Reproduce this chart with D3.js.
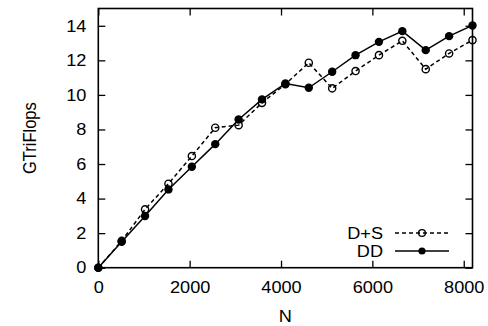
<!DOCTYPE html>
<html>
<head>
<meta charset="utf-8">
<script src="https://cdn.jsdelivr.net/npm/d3@7"></script>
<style>
  html, body { margin: 0; padding: 0; background: #fff; }
  svg { display: block; font-family: "Liberation Sans", Arial, sans-serif; }
</style>
</head>
<body>
<div id="app"></div>
<script>
// problem size N (step 512)
const sizes = [0, 512, 1024, 1536, 2048, 2560, 3072, 3584, 4096, 4608, 5120, 5632, 6144, 6656, 7168, 7680, 8192];
const dsValues = [0, 1.55, 3.38, 4.86, 6.46, 8.10, 8.25, 9.54, 10.62, 11.86, 10.38, 11.38, 12.30, 13.13, 11.49, 12.40, 13.17];
const ddValues = [0, 1.50, 2.99, 4.53, 5.84, 7.15, 8.58, 9.74, 10.66, 10.41, 11.34, 12.30, 13.07, 13.69, 12.59, 13.40, 14.02];
const xTicks = [0, 2000, 4000, 6000, 8000];
const yTicks = [0, 2, 4, 6, 8, 10, 12, 14];
const seriesNames = ["D+S", "DD"];

const width = 488, height = 326;
const margin = { top: 8.5, left: 98.3, right: 488 - 472.5, bottom: 326 - 267.7 };
const fontSize = 16.5, stretch = 1.1, tickLen = 7;

const x = d3.scaleLinear().domain([0, 8192]).range([margin.left, width - margin.right]);
const y = d3.scaleLinear().domain([0, 15]).range([height - margin.bottom, margin.top]);

const svg = d3.select("#app").append("svg").attr("width", width).attr("height", height);

// mirrored inward ticks
svg.append("g")
  .attr("transform", `translate(0,${y(0)})`)
  .call(d3.axisBottom(x).tickValues(xTicks).tickSize(-tickLen).tickPadding(14).tickFormat(d3.format("d")))
  .call(g => g.select(".domain").remove())
  .call(g => g.selectAll("text")
    .attr("font-size", fontSize).attr("fill", "#000")
    .attr("font-family", "Liberation Sans, Arial, sans-serif")
    .attr("transform", `scale(${stretch},1)`));

svg.append("g")
  .attr("transform", `translate(0,${margin.top})`)
  .call(d3.axisTop(x).tickValues(xTicks).tickSize(-tickLen).tickFormat(""))
  .call(g => g.select(".domain").remove());

svg.append("g")
  .attr("transform", `translate(${margin.left},0)`)
  .call(d3.axisLeft(y).tickValues(yTicks).tickSize(-tickLen).tickFormat(d3.format("d")))
  .call(g => g.select(".domain").remove())
  .call(g => g.selectAll("text")
    .attr("font-size", fontSize).attr("fill", "#000")
    .attr("font-family", "Liberation Sans, Arial, sans-serif")
    .attr("x", -12 / stretch)
    .attr("transform", `scale(${stretch},1)`));

svg.append("g")
  .attr("transform", `translate(${width - margin.right},0)`)
  .call(d3.axisRight(y).tickValues(yTicks).tickSize(-tickLen).tickFormat(""))
  .call(g => g.select(".domain").remove());

svg.selectAll(".tick line").attr("stroke", "#000").attr("stroke-width", 1.3);

svg.append("rect")
  .attr("x", x(0)).attr("y", y(15))
  .attr("width", x(8192) - x(0)).attr("height", y(0) - y(15))
  .attr("fill", "none").attr("stroke", "#000").attr("stroke-width", 1.6);

// axis titles
svg.append("text")
  .attr("transform", `translate(${(x(0) + x(8192)) / 2},${316}) scale(${stretch},1)`)
  .attr("text-anchor", "middle").attr("dy", "0.35em")
  .attr("font-size", fontSize).text("N");

svg.append("text")
  .attr("transform", `translate(30,${(y(0) + y(15)) / 2}) rotate(-90) scale(1,${stretch})`)
  .attr("text-anchor", "middle").attr("dy", "0.35em")
  .attr("font-size", fontSize).text("GTriFlops");

const line = d3.line().x(d => x(d[0])).y(d => y(d[1]));
const dsData = sizes.map((n, i) => [n, dsValues[i]]);
const ddData = sizes.map((n, i) => [n, ddValues[i]]);

// D+S dashed with open circles
svg.append("path").datum(dsData)
  .attr("d", line).attr("fill", "none").attr("stroke", "#000")
  .attr("stroke-width", 1.5).attr("stroke-dasharray", "4,3");
svg.append("g").selectAll("circle").data(dsData).join("circle")
  .attr("cx", d => x(d[0])).attr("cy", d => y(d[1])).attr("r", 3.6)
  .attr("fill", "none").attr("stroke", "#000").attr("stroke-width", 1.4);

// DD solid with filled circles
svg.append("path").datum(ddData)
  .attr("d", line).attr("fill", "none").attr("stroke", "#000").attr("stroke-width", 1.5);
svg.append("g").selectAll("circle").data(ddData).join("circle")
  .attr("cx", d => x(d[0])).attr("cy", d => y(d[1])).attr("r", 4.2)
  .attr("fill", "#000");

// legend
const legend = svg.append("g");
const legendRows = [
  { name: seriesNames[0], y: 233, dash: "4,3", filled: false },
  { name: seriesNames[1], y: 251, dash: null, filled: true }
];
legendRows.forEach(r => {
  legend.append("text")
    .attr("transform", `translate(383,${r.y}) scale(${stretch},1)`)
    .attr("text-anchor", "end").attr("dy", "0.35em")
    .attr("font-size", fontSize).text(r.name);
  legend.append("line")
    .attr("x1", 395).attr("x2", 449).attr("y1", r.y).attr("y2", r.y)
    .attr("stroke", "#000").attr("stroke-width", 1.5)
    .attr("stroke-dasharray", r.dash);
  legend.append("circle")
    .attr("cx", 422).attr("cy", r.y).attr("r", r.filled ? 3.6 : 3.4)
    .attr("fill", r.filled ? "#000" : "none")
    .attr("stroke", "#000").attr("stroke-width", r.filled ? 0 : 1.4);
});
</script>
</body>
</html>
